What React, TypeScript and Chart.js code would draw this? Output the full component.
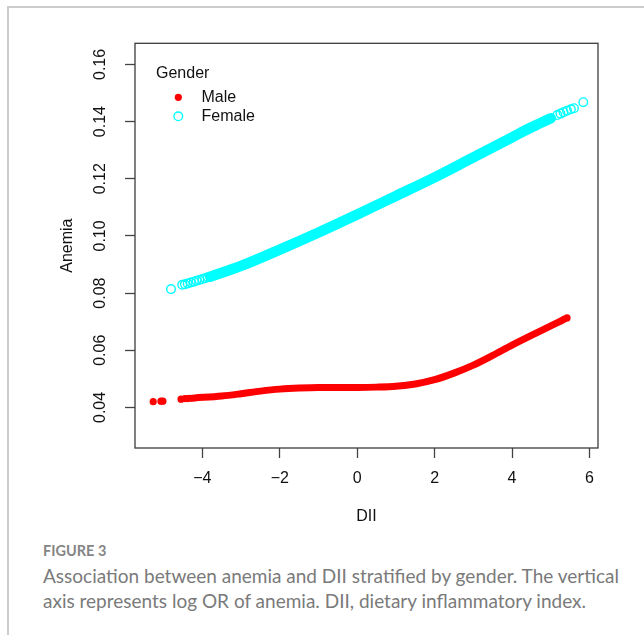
import React, { useEffect, useRef } from "react";
import { Chart, registerables } from "chart.js";

Chart.register(...registerables);

// ---- axis ticks ----
const xTicks = [-4, -2, 0, 2, 4, 6];
const yTicks = [0.04, 0.06, 0.08, 0.1, 0.12, 0.14, 0.16];

// ---- Male (red, filled circles) ----
// dense part of the point cloud
const maleBandDII = [-4.2, -3.5, -3.0, -2.5, -2.0, -1.5, -1.0, -0.5, 0.0, 0.5, 1.0, 1.5, 2.0, 2.5, 3.0, 3.5, 4.0, 4.5, 5.0, 5.3];
const maleBandValue = [0.0433, 0.044, 0.0448, 0.0457, 0.0464, 0.0468, 0.047, 0.047, 0.047, 0.0471, 0.0474, 0.0482, 0.0497, 0.052, 0.0548, 0.0582, 0.0618, 0.0652, 0.0685, 0.0705];
// isolated points at the ends
const maleDotDII = [-5.27, -5.07, -5.02, -4.55, -4.45, -4.38, -4.32, -4.26, 5.35, 5.42];
const maleDotValue = [0.042, 0.0422, 0.0422, 0.0429, 0.0431, 0.0431, 0.0432, 0.0432, 0.0709, 0.0713];

// ---- Female (cyan, open circles) ----
const femaleBandDII = [-3.8, -3.0, -2.0, -1.0, 0.0, 1.0, 2.0, 3.0, 4.0, 4.5, 5.0];
const femaleBandValue = [0.0857, 0.0895, 0.0952, 0.1012, 0.1075, 0.114, 0.1205, 0.1275, 0.1345, 0.138, 0.1412];
const femaleDotDII = [-4.81, -4.52, -4.45, -4.38, -4.3, -4.22, -4.15, -4.08, -4.0, -3.93, -3.86, 5.17, 5.25, 5.33, 5.42, 5.52, 5.6, 5.84];
const femaleDotValue = [0.0814, 0.0829, 0.0831, 0.0834, 0.0837, 0.084, 0.0843, 0.0846, 0.0849, 0.0852, 0.0855, 0.1423, 0.1428, 0.1433, 0.1438, 0.1443, 0.1447, 0.1468];

const legendTitle = "Gender";
const legendLabels = ["Male", "Female"];

const RED = "#FF0000";
const CYAN = "#00FFFF";
const INK = "#111111";
const FONT = "'Liberation Sans', Arial, Helvetica, sans-serif";

const zip = (xs: number[], ys: number[]) => xs.map((x, i) => ({ x, y: ys[i] }));

const boxPlugin = {
  id: "boxPlugin",
  afterDraw(chart: any) {
    const { ctx, chartArea: a } = chart;
    ctx.save();
    ctx.strokeStyle = "#3c3c3c";
    ctx.lineWidth = 1.3;
    ctx.strokeRect(a.left, a.top, a.right - a.left, a.bottom - a.top);

    // legend
    ctx.font = `16px ${FONT}`;
    ctx.fillStyle = INK;
    ctx.textBaseline = "middle";
    ctx.textAlign = "left";
    ctx.fillText(legendTitle, a.left + 21, a.top + 30.3);
    const mx = a.left + 43.3;
    const y1 = a.top + 54;
    const y2 = a.top + 73;
    ctx.fillText(legendLabels[0], a.left + 66.5, y1);
    ctx.fillText(legendLabels[1], a.left + 66.5, y2);
    ctx.beginPath();
    ctx.arc(mx, y1, 3.6, 0, Math.PI * 2);
    ctx.fillStyle = RED;
    ctx.fill();
    ctx.beginPath();
    ctx.arc(mx, y2, 4.3, 0, Math.PI * 2);
    ctx.strokeStyle = CYAN;
    ctx.lineWidth = 1.4;
    ctx.stroke();
    ctx.restore();
  },
};

function FigureChart() {
  const ref = useRef<HTMLCanvasElement | null>(null);
  useEffect(() => {
    if (!ref.current) return;
    const chart = new Chart(ref.current, {
      type: "scatter",
      data: {
        datasets: [
          {
            label: "Male band",
            data: zip(maleBandDII, maleBandValue),
            showLine: true,
            borderColor: RED,
            backgroundColor: RED,
            borderWidth: 7,
            pointRadius: 0,
            cubicInterpolationMode: "monotone",
            borderCapStyle: "round",
            borderJoinStyle: "round",
          } as any,
          {
            label: "Male",
            data: zip(maleDotDII, maleDotValue),
            pointRadius: 3.6,
            backgroundColor: RED,
            borderWidth: 0,
          },
          {
            label: "Female band",
            data: zip(femaleBandDII, femaleBandValue),
            showLine: true,
            borderColor: CYAN,
            backgroundColor: CYAN,
            borderWidth: 10.5,
            pointRadius: 0,
            cubicInterpolationMode: "monotone",
            borderCapStyle: "round",
            borderJoinStyle: "round",
          } as any,
          {
            label: "Female",
            data: zip(femaleDotDII, femaleDotValue),
            pointRadius: 4.3,
            backgroundColor: "rgba(0,0,0,0)",
            borderColor: CYAN,
            borderWidth: 1.4,
          },
        ],
      },
      options: {
        responsive: false,
        animation: false,
        events: [],
        layout: { padding: { left: 0, top: 43.3, right: 46, bottom: 0 } },
        plugins: { legend: { display: false }, tooltip: { enabled: false } },
        scales: {
          x: {
            type: "linear",
            position: "bottom",
            min: -5.74,
            max: 6.22,
            afterBuildTicks: (s: any) => {
              s.ticks = xTicks.map((value) => ({ value }));
            },
            afterFit: (s: any) => {
              s.height = 92;
            },
            border: { display: false },
            grid: {
              display: true,
              drawOnChartArea: false,
              drawTicks: true,
              tickLength: 10,
              tickColor: "#444444",
              tickWidth: 1.3,
            },
            ticks: {
              padding: 10.5,
              color: INK,
              font: { family: FONT, size: 16 },
              maxRotation: 0,
              autoSkip: false,
              callback: (v: any) => (Number(v) < 0 ? "\u2212" + Math.abs(Number(v)) : String(v)),
            },
            title: {
              display: true,
              text: "DII",
              color: INK,
              font: { family: FONT, size: 16 },
              padding: { top: 0, bottom: 13.4 },
            },
          },
          y: {
            type: "linear",
            position: "left",
            min: 0.0258,
            max: 0.1674,
            afterBuildTicks: (s: any) => {
              s.ticks = yTicks.map((value) => ({ value }));
            },
            afterFit: (s: any) => {
              s.width = 135;
            },
            border: { display: false },
            grid: {
              display: true,
              drawOnChartArea: false,
              drawTicks: true,
              tickLength: 10,
              tickColor: "#444444",
              tickWidth: 1.3,
            },
            ticks: {
              padding: 9,
              color: INK,
              font: { family: FONT, size: 16 },
              minRotation: 90,
              maxRotation: 90,
              crossAlign: "center",
              autoSkip: false,
              callback: (v: any) => Number(v).toFixed(2),
            },
            title: {
              display: true,
              text: "Anemia",
              color: INK,
              font: { family: FONT, size: 16 },
              padding: { top: 58.4, bottom: 0 },
            },
          },
        },
      } as any,
      plugins: [boxPlugin],
    });
    return () => chart.destroy();
  }, []);
  return (
    <canvas
      ref={ref}
      width={644}
      height={540}
      style={{ position: "absolute", left: 0, top: 0, width: 644, height: 540 }}
    />
  );
}

export default function App() {
  return (
    <div style={{ position: "absolute", left: 0, top: 0, width: 644, height: 635, background: "#fff", overflow: "hidden" }}>
      <div
        style={{
          position: "absolute",
          left: 7,
          top: 6,
          width: 660,
          height: 660,
          borderTop: "2px solid #cccccc",
          borderLeft: "2px solid #cccccc",
        }}
      />
      <FigureChart />
      <div
        style={{
          position: "absolute",
          left: 43,
          top: 542,
          fontFamily: "Lato, 'Open Sans', sans-serif",
          fontWeight: 700,
          fontSize: 14.5,
          lineHeight: "18px",
          color: "#858585",
          whiteSpace: "nowrap",
        }}
      >
        FIGURE 3
      </div>
      <div
        style={{
          position: "absolute",
          left: 43,
          top: 564,
          fontFamily: "Lato, 'Open Sans', sans-serif",
          fontWeight: 400,
          fontSize: 19,
          lineHeight: "24.5px",
          color: "#7a7a7a",
          whiteSpace: "nowrap",
        }}
      >
        <div>Association between anemia and DII stratified by gender. The vertical</div>
        <div>axis represents log OR of anemia. DII, dietary inflammatory index.</div>
      </div>
    </div>
  );
}
